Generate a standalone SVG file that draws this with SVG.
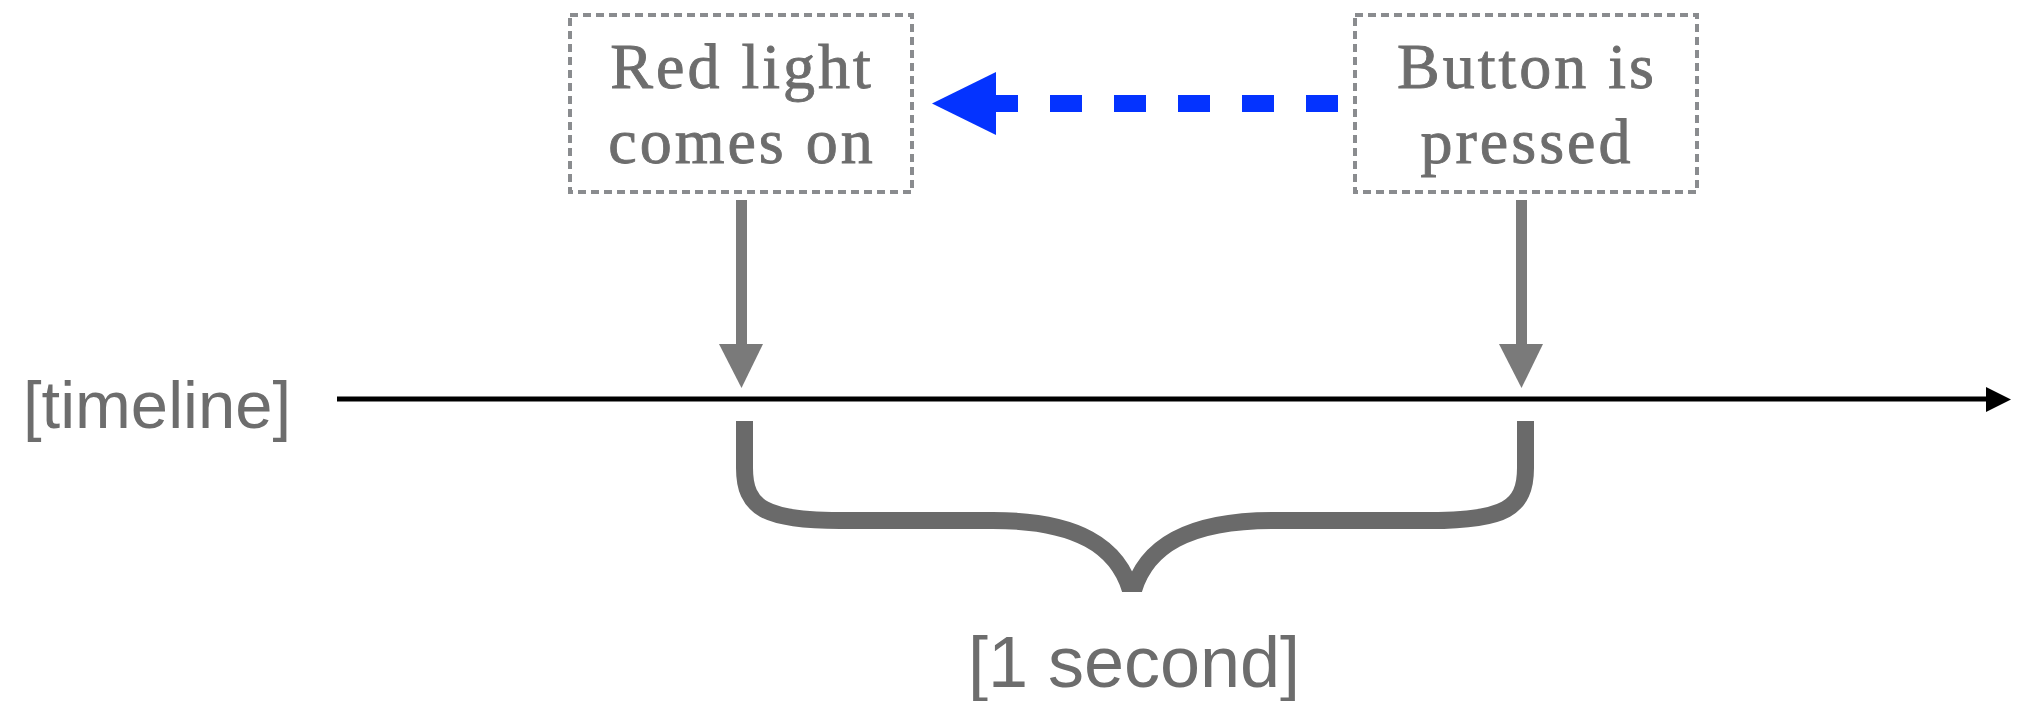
<svg xmlns="http://www.w3.org/2000/svg" width="2023" height="701" viewBox="0 0 2023 701">
<style>
.box{fill:none;stroke:#8a8c8f;stroke-width:4;stroke-dasharray:8 5}
.lbl{font-family:"Liberation Serif","Times New Roman",serif;font-size:64px;letter-spacing:3px;fill:#6d6d6d;stroke:#6d6d6d;stroke-width:0.9;text-anchor:middle}
.sans{font-family:"Liberation Sans",Arial,sans-serif;font-size:72px;fill:#6d6d6d;text-anchor:middle}
.vshaft{stroke:#7a7a7a;stroke-width:11;fill:none}
.vhead{fill:#7a7a7a}
</style>
<defs>
<clipPath id="braceClip"><rect x="0" y="0" width="2023" height="592"/></clipPath>
</defs>
<rect width="2023" height="701" fill="#ffffff"/>
<g id="node-red-light">
<rect class="box" x="570" y="15" width="342" height="177"/>
<text class="lbl" x="742" y="88">Red light</text>
<text class="lbl" x="742" y="163">comes on</text>
</g>
<g id="node-button">
<rect class="box" x="1355" y="15" width="342" height="177"/>
<text class="lbl" x="1527" y="88">Button is</text>
<text class="lbl" x="1527" y="163">pressed</text>
</g>
<g id="label-timeline">
<text class="sans" x="157" y="428" style="font-size:67px">[timeline]</text>
</g>
<g id="label-second">
<text class="sans" x="1134" y="687">[1 second]</text>
</g>
<g id="connectors">
<path d="M1338 103.5 H996" stroke="#0433ff" stroke-width="17" stroke-dasharray="32 32" fill="none"/>
<polygon points="932,103.5 996,72 996,135" fill="#0433ff"/>
<line class="vshaft" x1="741.5" y1="200" x2="741.5" y2="346"/>
<polygon class="vhead" points="719,344 763,344 741.5,388"/>
<line class="vshaft" x1="1521.5" y1="200" x2="1521.5" y2="346"/>
<polygon class="vhead" points="1499,344 1543,344 1521.5,388"/>
<line x1="337" y1="399" x2="1990" y2="399" stroke="#000" stroke-width="5"/>
<polygon points="2011,399.5 1986,387 1986,412" fill="#000"/>
<path clip-path="url(#braceClip)" d="M744.5 421 V468 C744.5 508 765 520.5 840 520.5 H993 C1075 520.5 1120 545 1132 596 C1144 545 1190 520.5 1273 520.5 H1430 C1505 520.5 1525.5 508 1525.5 468 V421" fill="none" stroke="#6a6a6a" stroke-width="17" stroke-linejoin="miter" stroke-miterlimit="10"/>
</g>
</svg>
